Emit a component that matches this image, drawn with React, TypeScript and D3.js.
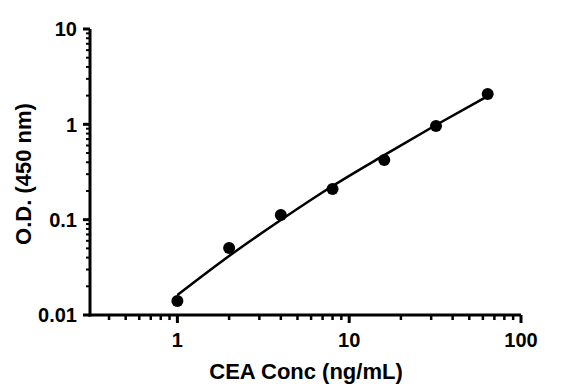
import React from "react";
import * as d3 from "d3";

const concentrations = [1, 2, 4, 8, 16, 32, 64];
const odValues = [0.014, 0.0505, 0.112, 0.21, 0.423, 0.962, 2.08];
const fitX = [1, 2, 4, 8, 16, 32, 64];
const fitY = [0.0162, 0.0416, 0.0992, 0.2254, 0.476, 0.984, 1.98];
const xTickLabels = [1, 10, 100];
const yTickLabels = [0.01, 0.1, 1, 10];

const W = 570;
const H = 392;
const FONT = "'Liberation Sans', Arial, sans-serif";

export default function App() {
  const x = d3.scaleLog().domain([0.31, 100]).range([90, 521]);
  const y = d3.scaleLog().domain([0.01, 10]).range([315, 29]);

  const xMinor: number[] = [];
  [0.1, 1, 10].forEach((d) => {
    for (let k = 2; k <= 9; k++) {
      const v = d * k;
      if (v > 0.31 && v < 100) xMinor.push(v);
    }
  });
  const yMinor: number[] = [];
  [0.01, 0.1, 1].forEach((d) => {
    for (let k = 2; k <= 9; k++) yMinor.push(d * k);
  });

  const line = d3
    .line<number>()
    .x((_, i) => x(fitX[i]))
    .y((_, i) => y(fitY[i]))
    .curve(d3.curveMonotoneX);

  return (
    <svg width={W} height={H} style={{ display: "block", position: "absolute", left: 0, top: 0 }}>
      <rect width={W} height={H} fill="#fff" />
      {/* axes */}
      <line x1={90} x2={90} y1={y(10)} y2={316.5} stroke="#000" strokeWidth={3} />
      <line x1={88.5} x2={x(100)} y1={315} y2={315} stroke="#000" strokeWidth={3} />
      {/* y ticks */}
      {yTickLabels.map((v) => (
        <g key={"y" + v}>
          <line x1={83} x2={90} y1={y(v)} y2={y(v)} stroke="#000" strokeWidth={3} />
          <text
            x={77}
            y={y(v)}
            dy="0.36em"
            textAnchor="end"
            fontFamily={FONT}
            fontWeight="bold"
            fontSize={20}
          >
            {String(v)}
          </text>
        </g>
      ))}
      {yMinor.map((v, i) => (
        <line key={"ym" + i} x1={86} x2={90} y1={y(v)} y2={y(v)} stroke="#000" strokeWidth={2} />
      ))}
      {/* x ticks */}
      {xTickLabels.map((v) => (
        <g key={"x" + v}>
          <line x1={x(v)} x2={x(v)} y1={315} y2={323} stroke="#000" strokeWidth={3} />
          <text
            x={x(v)}
            y={347}
            textAnchor="middle"
            fontFamily={FONT}
            fontWeight="bold"
            fontSize={20}
          >
            {String(v)}
          </text>
        </g>
      ))}
      {xMinor.map((v, i) => (
        <line key={"xm" + i} x1={x(v)} x2={x(v)} y1={315} y2={320} stroke="#000" strokeWidth={2.5} />
      ))}
      {/* fit curve */}
      <path d={line(fitX) || ""} fill="none" stroke="#000" strokeWidth={2.6} />
      {/* points */}
      {concentrations.map((c, i) => (
        <circle key={"p" + i} cx={x(c)} cy={y(odValues[i])} r={6} fill="#000" />
      ))}
      {/* titles */}
      <text
        x={306}
        y={379}
        textAnchor="middle"
        fontFamily={FONT}
        fontWeight="bold"
        fontSize={22}
      >
        CEA Conc (ng/mL)
      </text>
      <text
        transform="translate(31,174) rotate(-90)"
        textAnchor="middle"
        fontFamily={FONT}
        fontWeight="bold"
        fontSize={22}
      >
        O.D. (450 nm)
      </text>
    </svg>
  );
}
